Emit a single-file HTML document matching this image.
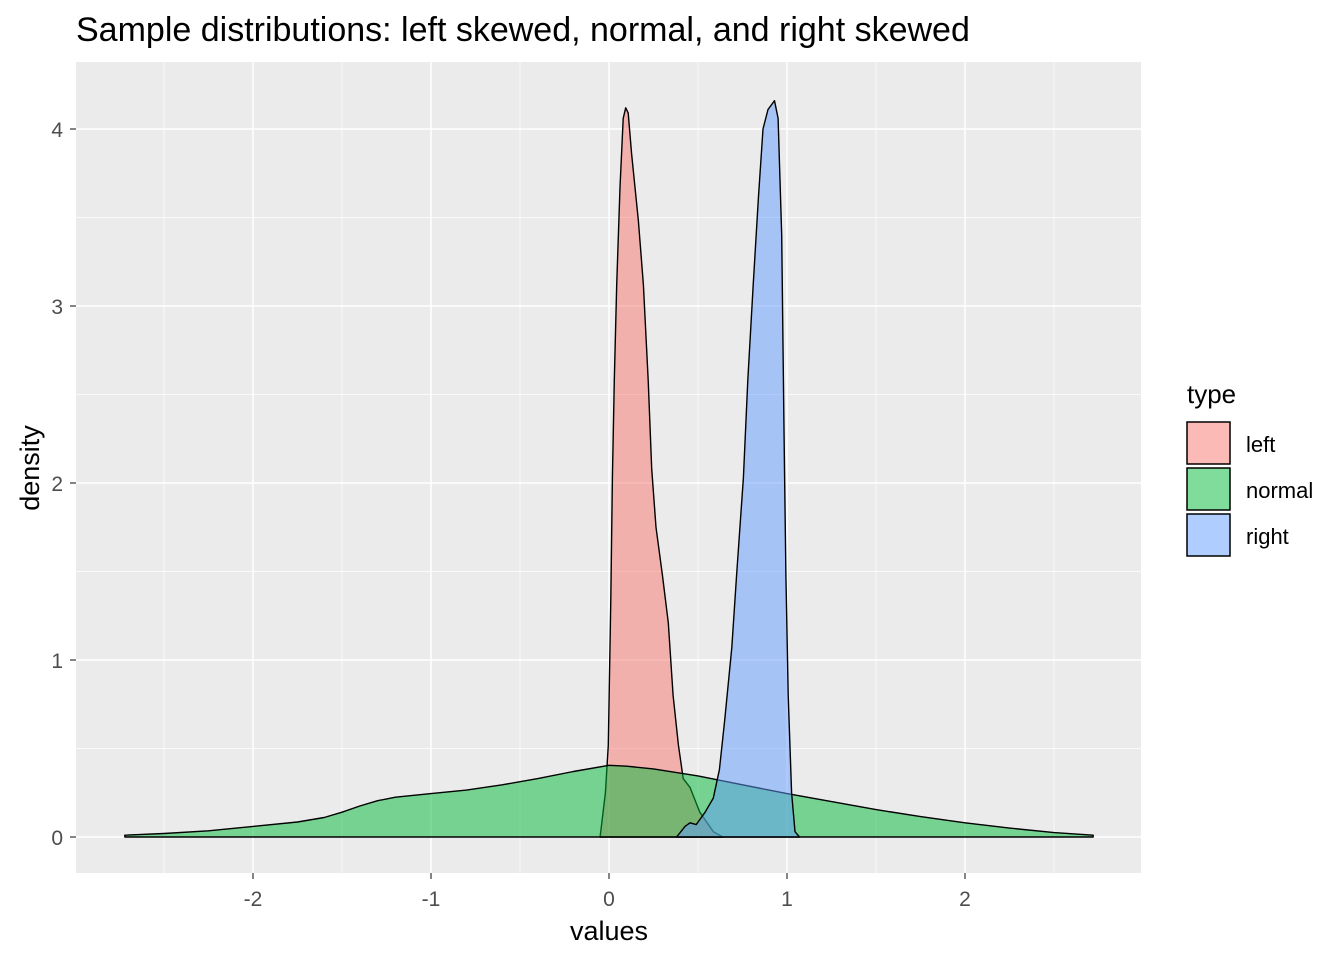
<!DOCTYPE html>
<html><head><meta charset="utf-8"><style>
body{margin:0;background:#fff;}
svg text{font-family:"Liberation Sans",Arial,sans-serif;}
</style></head><body>
<svg id="chart" width="1344" height="960" xmlns="http://www.w3.org/2000/svg">
<rect x="0" y="0" width="1344" height="960" fill="#fff"/>
<text x="76" y="41" font-size="34" fill="#000">Sample distributions: left skewed, normal, and right skewed</text>
<rect x="76" y="62" width="1065" height="811" fill="#EBEBEB"/>
<g id="grid"></g>
<g id="series"></g>
<g id="axes"></g>
<text x="609" y="940" font-size="27" text-anchor="middle" fill="#000">values</text>
<text x="39" y="468" font-size="27" text-anchor="middle" fill="#000" transform="rotate(-90 39 468)">density</text>
<g>
<text x="1187" y="403" font-size="26" fill="#000">type</text>
<rect x="1187" y="422" width="43" height="42" fill="#F8766D" fill-opacity="0.5" stroke="#000" stroke-width="1.5"/>
<rect x="1187" y="468" width="43" height="42" fill="#00BA38" fill-opacity="0.5" stroke="#000" stroke-width="1.5"/>
<rect x="1187" y="514" width="43" height="42" fill="#619CFF" fill-opacity="0.5" stroke="#000" stroke-width="1.5"/>
<text x="1246" y="452" font-size="22" fill="#000">left</text>
<text x="1246" y="498" font-size="22" fill="#000">normal</text>
<text x="1246" y="544" font-size="22" fill="#000">right</text>
</g>
</svg>
<script>
const xTicks=[-2,-1,0,1,2];
const yTicks=[0,1,2,3,4];
const leftX=[-0.05,-0.02,-0.004,0.01,0.019,0.03,0.043,0.062,0.08,0.094,0.108,0.127,0.165,0.193,0.22,0.24,0.264,0.30,0.333,0.36,0.39,0.417,0.455,0.51,0.586,0.64];
const leftY=[0,0.25,0.52,1.34,2.03,2.58,3.12,3.67,4.06,4.12,4.09,3.86,3.48,3.12,2.58,2.08,1.75,1.48,1.21,0.80,0.52,0.33,0.28,0.14,0.03,0];
const normalX=[-2.72,-2.5,-2.25,-2,-1.75,-1.6,-1.5,-1.4,-1.3,-1.2,-1.0,-0.8,-0.6,-0.4,-0.2,0,0.1,0.25,0.5,0.75,1.0,1.25,1.5,1.75,2.0,2.25,2.5,2.72];
const normalY=[0.01,0.02,0.035,0.06,0.085,0.11,0.14,0.175,0.205,0.225,0.245,0.265,0.295,0.33,0.37,0.405,0.40,0.385,0.345,0.295,0.245,0.2,0.155,0.115,0.08,0.05,0.025,0.01];
const rightX=[0.38,0.427,0.455,0.49,0.54,0.586,0.62,0.65,0.69,0.717,0.755,0.78,0.81,0.84,0.865,0.893,0.93,0.95,0.97,0.983,0.994,1.007,1.026,1.045,1.07];
const rightY=[0,0.06,0.08,0.07,0.14,0.22,0.38,0.66,1.07,1.48,2.03,2.58,3.12,3.62,4.0,4.11,4.16,4.06,3.40,2.30,1.48,0.80,0.25,0.03,0];

const NS="http://www.w3.org/2000/svg";
const sx=v=>609+v*178;
const sy=v=>837-v*177;
const grid=document.getElementById('grid');
const series=document.getElementById('series');
const axes=document.getElementById('axes');
function mk(tag,attrs,parent){const e=document.createElementNS(NS,tag);for(const k in attrs)e.setAttribute(k,attrs[k]);parent.appendChild(e);return e;}
for(let v=-2.5;v<=2.5;v+=1){const l=mk('line',{x1:sx(v),x2:sx(v),y1:62,y2:873,stroke:'#fff','stroke-width':0.7},grid);

}
for(let v=0.5;v<=4.5;v+=1){if(sy(v)<62)continue;const l=mk('line',{x1:76,x2:1141,y1:sy(v),y2:sy(v),stroke:'#fff','stroke-width':0.7},grid);

}
xTicks.forEach(v=>{const l=mk('line',{x1:sx(v),x2:sx(v),y1:62,y2:873,stroke:'#fff','stroke-width':1.5},grid);


const t=mk('line',{x1:sx(v),x2:sx(v),y1:873,y2:879,stroke:'#333','stroke-width':1.2},axes);


const tx=mk('text',{x:sx(v),y:906,'font-size':21,'text-anchor':'middle',fill:'#4D4D4D'},axes);tx.textContent=String(v);

});
yTicks.forEach(v=>{const l=mk('line',{x1:76,x2:1141,y1:sy(v),y2:sy(v),stroke:'#fff','stroke-width':1.5},grid);


const t=mk('line',{x1:70,x2:76,y1:sy(v),y2:sy(v),stroke:'#333','stroke-width':1.2},axes);


const tx=mk('text',{x:63,y:sy(v)+8,'font-size':21,'text-anchor':'end',fill:'#4D4D4D'},axes);tx.textContent=String(v);

});
function area(xs,ys,color,name){
  let d='M'+sx(xs[0])+','+sy(0);
  xs.forEach((x,i)=>{d+=' L'+sx(x).toFixed(1)+','+sy(ys[i]).toFixed(1);});
  d+=' L'+sx(xs[xs.length-1])+','+sy(0)+' Z';
  const p=mk('path',{d:d,fill:color,'fill-opacity':0.5,stroke:'#000','stroke-width':1.4,'stroke-linejoin':'round'},series);
  
  
}
area(leftX,leftY,'#F8766D','density-left');
area(normalX,normalY,'#00BA38','density-normal');
area(rightX,rightY,'#619CFF','density-right');
</script>
</body></html>
